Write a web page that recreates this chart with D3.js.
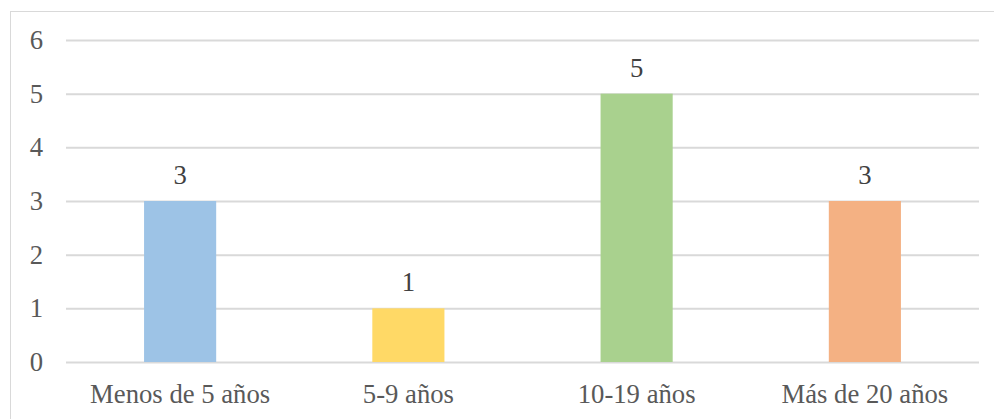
<!DOCTYPE html>
<html>
<head>
<meta charset="utf-8">
<script src="https://cdn.jsdelivr.net/npm/d3@7"></script>
<style>
  html, body { margin: 0; padding: 0; background: #fff; }
  svg { display: block; }
  svg text { font-family: "Liberation Serif", "Times New Roman", Times, "DejaVu Serif", serif; font-size: 26.7px; }
</style>
</head>
<body>
<svg id="chart" width="994" height="419"></svg>
<script>
// Antigüedad: número de personas por tramo de años
const categories = ["Menos de 5 años", "5-9 años", "10-19 años", "Más de 20 años"];
const values = [3, 1, 5, 3];
const barColors = ["#9DC3E6", "#FFD966", "#A9D18E", "#F4B183"];
const yTicks = [0, 1, 2, 3, 4, 5, 6];

const svg = d3.select("#chart");

// chart frame
svg.append("rect")
  .attr("x", 10.5).attr("y", 11.5)
  .attr("width", 1000).attr("height", 420)
  .attr("fill", "#fff")
  .attr("stroke", "#D9D9D9").attr("stroke-width", 1);

const plot = { left: 66, right: 979, top: 40, bottom: 362 };

const x = d3.scaleBand()
  .domain(categories)
  .range([plot.left, plot.right])
  .paddingInner(0.684)
  .paddingOuter(0.342);

const y = d3.scaleLinear()
  .domain([0, 6])
  .range([plot.bottom, plot.top]);

// horizontal gridlines with value ticks
const yAxis = d3.axisLeft(y)
  .tickValues(yTicks)
  .tickSize(-(plot.right - plot.left))
  .tickPadding(23)
  .tickFormat(d3.format("d"));

const gy = svg.append("g")
  .attr("transform", `translate(${plot.left},0)`)
  .call(yAxis)
  .attr("font-family", null)
  .attr("font-size", null);
gy.select(".domain").remove();
gy.selectAll(".tick line")
  .attr("stroke", "#D9D9D9").attr("stroke-width", 2);
gy.selectAll(".tick text")
  .attr("fill", "#595959");

// bars
svg.append("g").selectAll("rect")
  .data(categories)
  .join("rect")
  .attr("x", d => x(d))
  .attr("width", x.bandwidth())
  .attr("y", (d, i) => y(values[i]))
  .attr("height", (d, i) => y(0) - y(values[i]))
  .attr("fill", (d, i) => barColors[i]);

// value labels
svg.append("g").selectAll("text")
  .data(categories)
  .join("text")
  .attr("x", d => x(d) + x.bandwidth() / 2)
  .attr("y", (d, i) => y(values[i]) - 17)
  .attr("text-anchor", "middle")
  .attr("fill", "#404040")
  .text((d, i) => values[i]);

// category labels
const xAxis = d3.axisBottom(x).tickSize(0).tickPadding(0);
const gx = svg.append("g")
  .attr("transform", `translate(0,${plot.bottom})`)
  .call(xAxis)
  .attr("font-family", null)
  .attr("font-size", null);
gx.select(".domain").remove();
gx.selectAll(".tick text")
  .attr("dy", null)
  .attr("y", 41)
  .attr("fill", "#595959");
</script>
</body>
</html>
